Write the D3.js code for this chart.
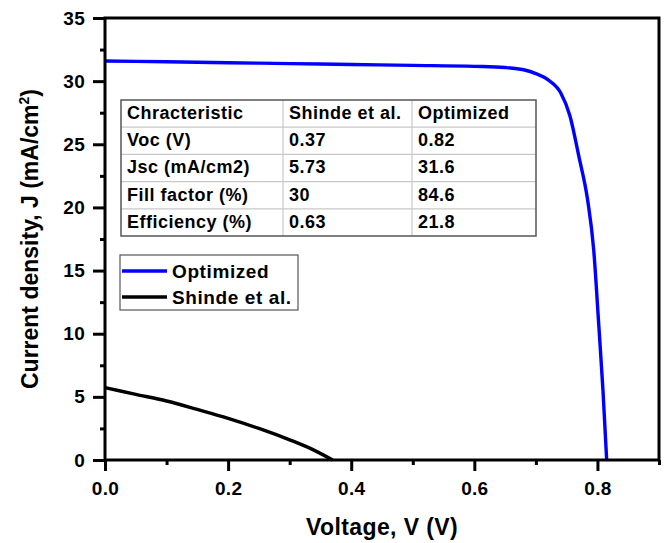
<!DOCTYPE html>
<html>
<head>
<meta charset="utf-8">
<script src="https://cdn.jsdelivr.net/npm/d3@7"></script>
<style>
  body { margin: 0; background: #fff; }
  svg { font-family: Arial, "Liberation Sans", sans-serif; }
</style>
</head>
<body>
<svg id="chart" width="666" height="543"></svg>
<script>
// J–V curves (voltage in V, current density in mA/cm²)
const optimizedV = [0, 0.1, 0.2, 0.3, 0.4, 0.5, 0.6, 0.65, 0.68, 0.70, 0.72, 0.74, 0.755, 0.77, 0.784, 0.794, 0.802, 0.809, 0.815];
const optimizedJ = [31.6, 31.53, 31.46, 31.39, 31.32, 31.25, 31.17, 31.08, 30.9, 30.6, 30.1, 29.1, 27.3, 24.0, 20.6, 16.6, 10.8, 5.5, 0];
const shindeV = [0, 0.05, 0.1, 0.15, 0.2, 0.25, 0.3, 0.33, 0.37];
const shindeJ = [5.73, 5.2, 4.67, 4.0, 3.3, 2.5, 1.6, 1.0, 0];

// Axis ticks
const xTicks = [0, 0.2, 0.4, 0.6, 0.8];
const xMinor = [0.1, 0.3, 0.5, 0.7, 0.9];
const yTicks = [0, 5, 10, 15, 20, 25, 30, 35];
const yMinor = [2.5, 7.5, 12.5, 17.5, 22.5, 27.5, 32.5];

// Summary table
const tableHeader = ["Chracteristic", "Shinde et al.", "Optimized"];
const tableParams = ["Voc (V)", "Jsc (mA/cm2)", "Fill factor (%)", "Efficiency (%)"];
const tableShinde = ["0.37", "5.73", "30", "0.63"];
const tableOptimized = ["0.82", "31.6", "84.6", "21.8"];

const seriesNames = ["Optimized", "Shinde et al."];
const seriesColors = ["#0000ff", "#000000"];

const svg = d3.select("#chart");
const m = { left: 105, right: 659, top: 18, bottom: 460 };

const x = d3.scaleLinear().domain([0, 0.9]).range([m.left, m.right]);
const y = d3.scaleLinear().domain([0, 35]).range([m.bottom, m.top]);

// Curves
const line = d3.line().x(d => x(d[0])).y(d => y(d[1])).curve(d3.curveMonotoneX);
const series = [
  d3.zip(optimizedV, optimizedJ),
  d3.zip(shindeV, shindeJ)
];
svg.append("g").selectAll("path").data(series).join("path")
  .attr("d", line)
  .attr("fill", "none")
  .attr("stroke", (d, i) => seriesColors[i])
  .attr("stroke-width", 3.4)
  .attr("stroke-linejoin", "round");

// Axes
const xAxis = svg.append("g").attr("transform", `translate(0,${m.bottom})`)
  .call(d3.axisBottom(x).tickValues(xTicks).tickFormat(d3.format(".1f")).tickSize(11).tickPadding(11));
const xMinorAxis = svg.append("g").attr("transform", `translate(0,${m.bottom})`)
  .call(d3.axisBottom(x).tickValues(xMinor).tickFormat("").tickSize(5));
const yAxis = svg.append("g").attr("transform", `translate(${m.left},0)`)
  .call(d3.axisLeft(y).tickValues(yTicks).tickSize(12).tickPadding(8));
const yMinorAxis = svg.append("g").attr("transform", `translate(${m.left},0)`)
  .call(d3.axisLeft(y).tickValues(yMinor).tickFormat("").tickSize(5));

[xAxis, xMinorAxis, yAxis, yMinorAxis].forEach(g => {
  g.select(".domain").remove();
  g.selectAll(".tick line").attr("stroke", "#000").attr("stroke-width", 3);
  g.selectAll(".tick text").attr("fill", "#000")
    .attr("font-size", 19).attr("font-weight", "bold").attr("letter-spacing", 0.3);
});

// Frame
svg.append("rect")
  .attr("x", m.left).attr("y", m.top)
  .attr("width", m.right - m.left).attr("height", m.bottom - m.top)
  .attr("fill", "none").attr("stroke", "#000").attr("stroke-width", 3);

// Axis titles
svg.append("text")
  .attr("x", (m.left + m.right) / 2).attr("y", 535)
  .attr("text-anchor", "middle").attr("font-size", 23).attr("font-weight", "bold")
  .attr("letter-spacing", 0.4)
  .text("Voltage, V (V)");

const yt = svg.append("text")
  .attr("transform", `translate(38,${(m.top + m.bottom) / 2}) rotate(-90)`)
  .attr("text-anchor", "middle").attr("font-size", 23).attr("font-weight", "bold");
yt.append("tspan").text("Current density, J (mA/cm");
yt.append("tspan").attr("font-size", 14).attr("dy", -9).text("2");
yt.append("tspan").attr("dy", 9).text(")");

// Table
const tbl = { x: 121, y: 100, rowH: 27.2, cols: [121, 283, 412, 536] };
const rows = [tableHeader].concat(tableParams.map((p, i) => [p, tableShinde[i], tableOptimized[i]]));
const tg = svg.append("g");
tg.append("rect").attr("x", tbl.x).attr("y", tbl.y)
  .attr("width", tbl.cols[3] - tbl.x).attr("height", tbl.rowH * rows.length)
  .attr("fill", "#fff");
for (let r = 1; r < rows.length; r++) {
  tg.append("line").attr("x1", tbl.x).attr("x2", tbl.cols[3])
    .attr("y1", tbl.y + r * tbl.rowH).attr("y2", tbl.y + r * tbl.rowH)
    .attr("stroke", "#c8c8c8").attr("stroke-width", 1.2);
}
for (let c = 1; c < 3; c++) {
  tg.append("line").attr("x1", tbl.cols[c]).attr("x2", tbl.cols[c])
    .attr("y1", tbl.y).attr("y2", tbl.y + tbl.rowH * rows.length)
    .attr("stroke", "#c8c8c8").attr("stroke-width", 1.2);
}
tg.append("rect").attr("x", tbl.x).attr("y", tbl.y)
  .attr("width", tbl.cols[3] - tbl.x).attr("height", tbl.rowH * rows.length)
  .attr("fill", "none").attr("stroke", "#555").attr("stroke-width", 1.5);
rows.forEach((row, r) => {
  row.forEach((cell, c) => {
    tg.append("text")
      .attr("x", tbl.cols[c] + 6).attr("y", tbl.y + r * tbl.rowH + 19)
      .attr("font-size", 18).attr("font-weight", "bold").attr("fill", "#000")
      .attr("letter-spacing", 0.5)
      .text(cell);
  });
});

// Legend
const lg = svg.append("g");
lg.append("rect").attr("x", 120).attr("y", 255).attr("width", 178).attr("height", 55)
  .attr("fill", "#fff").attr("stroke", "#555").attr("stroke-width", 1.2);
seriesNames.forEach((name, i) => {
  const ly = 271 + i * 26;
  lg.append("line").attr("x1", 122).attr("x2", 167).attr("y1", ly).attr("y2", ly)
    .attr("stroke", seriesColors[i]).attr("stroke-width", 3.4);
  lg.append("text").attr("x", 172).attr("y", ly + 7)
    .attr("font-size", 19).attr("font-weight", "bold").attr("fill", "#000")
    .attr("letter-spacing", 0.6)
    .text(name);
});
</script>
</body>
</html>
